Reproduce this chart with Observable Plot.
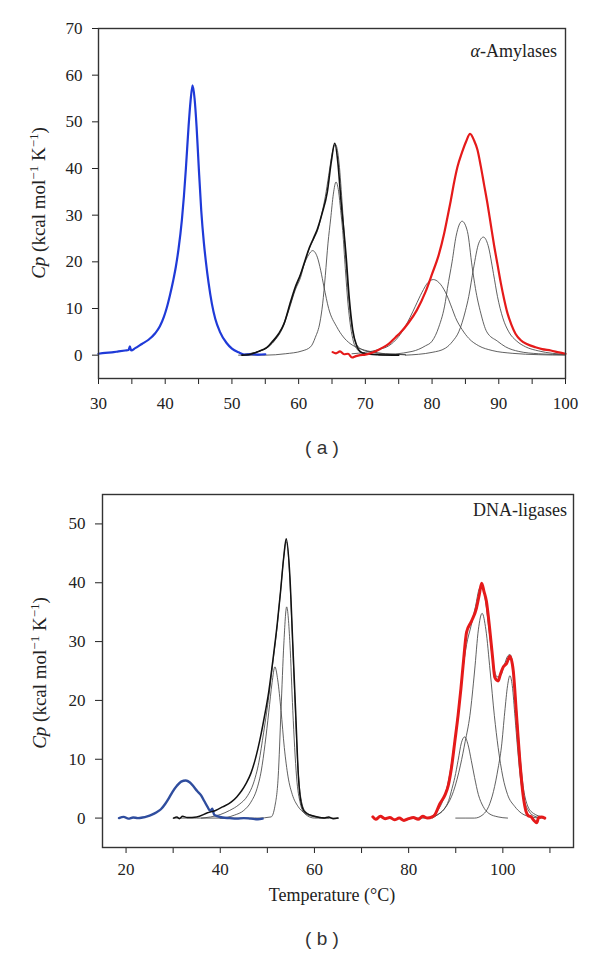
<!DOCTYPE html>
<html><head><meta charset="utf-8">
<script src="https://cdn.jsdelivr.net/npm/d3@7"></script>
<script src="https://cdn.jsdelivr.net/npm/@observablehq/plot@0.6"></script>
<style>
body{margin:0;background:#fff;width:600px;height:964px;position:relative;overflow:hidden;font-family:"Liberation Serif",serif}
#pa{position:absolute;left:0;top:0}
#pb{position:absolute;left:0;top:470px}
#pa svg text, #pb svg text{font-family:"Liberation Serif",serif !important}
.cap{position:absolute;font-family:"Liberation Sans",Arial,sans-serif;font-size:19px;color:#333;width:100px;text-align:center;white-space:pre}
</style></head><body>
<div id="pa"></div><div id="pb"></div>
<div class="cap" style="left:272px;top:437px">( a )</div>
<div class="cap" style="left:272px;top:928px">( b )</div>
<script>
// ---------- Panel (a): alpha-Amylases ----------
const aXTicks = [30,35,40,45,50,55,60,65,70,75,80,85,90,95,100];
const aXLabels = [30,40,50,60,70,80,90,100];
const aYTicks = [0,10,20,30,40,50,60,70];
const aBlue = [[30,0.3],[31,0.5],[32,0.6],[33,0.8],[34,1.0],[34.5,1.1],[34.7,1.9],[34.9,1.0],[35.5,1.5],[36.5,2.4],[37.5,3.3],[38.5,4.7],[39.2,6.2],[39.8,8.2],[40.2,10],[40.7,12.8],[41.2,16],[41.6,19],[42.0,22.8],[42.5,29],[42.8,34],[43.1,40],[43.5,49],[43.8,54.5],[44.1,57.8],[44.4,55],[44.7,49],[45.0,41],[45.4,31],[45.8,24],[46.1,20],[46.5,15.5],[47.0,11],[47.5,7.8],[48.2,5],[49.2,2.6],[50,1.4],[51,0.6],[52,0.1],[53,0.2],[54,0.1],[55,0.2]];
const aBlack = [[51.5,0],[52.5,0.1],[53.5,0.5],[54.5,1.1],[55.3,1.7],[56,2.8],[57,4.6],[57.8,6.7],[58.8,11.5],[59.5,14.6],[60.3,17.4],[60.8,19.6],[61.6,23],[62.3,25.3],[62.8,27],[63.5,30.3],[64.3,35],[64.9,41.5],[65.4,45.4],[65.9,41],[66.3,33.9],[67.1,21.5],[67.6,12],[68.1,5.5],[68.7,2],[69.2,0.8],[70,0.3],[72,0.1],[75,0]];
const aBlackFit = [[52,0.2],[54,0.8],[55.5,1.9],[56.5,3.4],[57.5,5.8],[58.5,9.8],[59.5,14.3],[60.3,17.3],[61,20.3],[61.6,22.8],[62.3,25],[62.9,27],[63.5,30.5],[64,34],[64.5,38.5],[65,43],[65.5,45.2],[66,42],[66.5,33],[67,22],[67.5,12.5],[68,6],[68.6,2.5],[69.5,1.2],[71,0.6],[73,0.3],[76,0.1]];
const aCompA = [[52,0.2],[54,0.8],[55.5,1.8],[56.5,3.3],[57.5,5.5],[58.5,9.5],[59.5,14],[60.3,16.7],[60.8,19.3],[61.5,21.5],[62.1,22.4],[62.8,21],[63.3,18.2],[63.8,14.6],[64.5,10],[65.7,6.1],[66.7,3.9],[67.7,2.5],[69,1.5],[70.7,0.8],[73,0.3],[76,0.1]];
const aCompB = [[51,0],[55,0],[58,0.3],[60.5,0.9],[61.8,1.8],[62.5,3.8],[63.2,7.1],[63.6,11],[64,17.1],[64.4,24],[64.8,29.2],[65.2,34.5],[65.6,37.1],[66,35],[66.3,31],[66.6,26.7],[67.0,18.5],[67.4,11],[67.8,6],[68.2,3],[68.8,1.2],[69.5,0.5],[71,0.2],[75,0]];
const aRed = [[65.1,0.65],[65.6,0.4],[66.2,0.8],[66.8,0.2],[67.4,0.3],[68,-0.5],[68.6,-0.2],[69.2,0],[70,0.1],[71,0.5],[72.3,1.4],[73.5,2.4],[74.5,3.8],[75.3,4.9],[76.5,7],[77.7,9.6],[79,13.5],[80,17.4],[81,21.5],[81.8,26],[82.3,29.5],[82.8,33.1],[83.3,37],[83.8,40.3],[84.5,43.5],[85.1,45.8],[85.7,47.4],[86.3,46],[86.8,44],[87.3,40.5],[87.8,36.5],[88.3,32.5],[88.8,28],[89.3,23.5],[89.8,19.5],[90.3,15.5],[90.8,12],[91.3,9],[91.9,6.5],[92.5,4.6],[93.3,3.2],[94.2,2.4],[95.5,1.7],[96.5,1.3],[97.8,1],[99,0.6],[100,0.3]];
const aRedC1 = [[68,0.3],[70,0.6],[72,1.2],[73.5,2],[75,4],[76,6.2],[76.7,8.1],[77.5,10.5],[78.5,13.5],[79.4,15.6],[80.2,16.2],[81,15.6],[82,13.5],[83,10],[83.5,8.1],[84.5,5.5],[85.5,3.6],[87,2],[89,1],[92,0.4],[96,0.1],[100,0]];
const aRedC2 = [[72,0],[77,0.8],[79,2],[80,3],[81,6],[82,11.5],[82.3,14.3],[83,20],[83.6,25.5],[84.5,28.7],[85.3,26.5],[86,19],[86.5,14.3],[87.3,9],[88.2,5],[89.8,3],[91,1.8],[93,0.8],[96,0.3],[100,0.1]];
const aRedC3 = [[76,0],[80,0.6],[82,1.5],[83.1,3],[84,5],[85,9.5],[85.5,12.6],[86.2,18.5],[87,24],[87.7,25.3],[88.4,23.5],[89.2,17.5],[89.8,12.6],[90.6,8],[91.5,5],[92.7,3],[94,1.8],[96,0.9],[98,0.4],[100,0.2]];

// ---------- Panel (b): DNA-ligases ----------
const bXTicks = [20,30,40,50,60,70,80,90,100,110];
const bXLabels = [20,40,60,80,100];
const bYTicks = [0,10,20,30,40,50];
const bBlue = [[18.5,0],[19.5,0.2],[20.5,-0.1],[21.5,0.1],[22.5,0],[23.5,0.1],[24.5,0.3],[25.5,0.6],[26.5,1],[27.4,1.5],[28.3,2.4],[29.1,3.4],[29.9,4.5],[30.8,5.5],[31.7,6.2],[32.7,6.4],[33.5,6.1],[34.3,5.4],[35.1,4.6],[35.9,3.9],[36.6,2.9],[37.3,1.9],[37.9,1.2],[38.3,1.6],[38.7,0.6],[39.5,0.3],[40.5,0.1],[42,0],[43.5,-0.1],[45,0],[46.5,-0.1],[48,-0.2],[49,-0.1]];
const bBlack = [[30.1,0],[30.8,0.2],[31.3,-0.1],[32,0.3],[33,0.1],[35,0.2],[37.3,0.9],[39,1.3],[40.5,1.9],[42.3,2.7],[43.5,3.6],[44.5,4.6],[45.5,5.9],[46.5,7.6],[47.3,9.6],[48.0,11.8],[48.6,14],[49.2,16.5],[50.3,21.5],[51.2,27],[52.1,33],[52.8,38.5],[53.5,44.5],[54,47.5],[54.8,40.9],[55.4,29.6],[56,18.3],[56.6,7],[57.2,2.5],[58,1],[60,0.3],[62,0],[63,0.2],[64,-0.1],[65,0]];
const bBlackFit = [[36,0],[40,0.6],[42,1.3],[44,2.3],[45.8,3.8],[47,5.8],[48.2,9.5],[49.2,14.5],[50.2,20],[51.1,26],[52,32],[52.8,38.5],[53.5,44.5],[54,47],[54.6,43],[55.2,33],[55.8,21],[56.4,10],[57,4],[58,1.2],[60,0.3],[63,0]];
const bCompA = [[30,0],[40,0],[43,0.5],[45,1.3],[46.5,2.7],[47.8,5],[48.7,8],[49.5,12.5],[50.3,18],[51,23],[51.6,25.7],[52.2,23.5],[52.9,18.3],[53.6,12],[54.4,7],[55.3,4],[56.5,2],[58,0.8],[60,0.2],[62,0]];
const bCompB = [[40,0],[48,0],[50.8,0.2],[51.6,2],[52.3,7],[52.9,18.3],[53.5,29.6],[54.1,35.9],[54.8,29.6],[55.4,18.3],[56.2,7],[57,2.5],[58,0.7],[60,0],[65,0]];
const bRed = [[72.4,0.2],[73,-0.2],[74,0.3],[75,-0.1],[76,0.1],[77,-0.3],[78,0],[79,-0.4],[80,-0.1],[81,0.1],[82,-0.2],[83,0.3],[84,0],[85,0.2],[85.5,0.5],[86.6,2.4],[87.7,3.9],[88.4,5.5],[89.1,8.6],[89.8,13],[90.5,17.5],[91.1,22],[91.6,26.3],[92.3,31.6],[93.3,33.4],[94.4,35.7],[95,38],[95.5,39.9],[96,38.5],[96.5,36.9],[97.2,32.2],[97.8,27.5],[98.3,23.9],[99,23.3],[99.5,24.5],[100.1,25.7],[100.8,26.3],[101.5,27.5],[102.2,25.1],[102.9,17.5],[103.6,9.8],[104.3,3.9],[104.9,1.2],[105.4,0.4],[106,0.2],[106.6,-0.4],[107.2,-0.8],[107.6,0.1],[108.2,0.2],[108.9,0]];
const bRedFit = [[84,0],[86,1.1],[87.5,3.5],[88.5,6.5],[89.5,11.5],[90.5,18],[91.4,24.5],[92.3,29.5],[93.2,32.5],[94.2,36],[95,39],[95.6,39.5],[96.3,37],[97.2,31],[98,26],[98.8,24],[99.5,24.2],[100.3,26],[101,27.5],[101.5,27.8],[102.2,25.5],[102.9,18.5],[103.6,11],[104.3,5.5],[105.2,2.2],[106.5,0.8],[108.5,0.2]];
const bRedC1 = [[80,0],[84,0],[86,0.5],[87.5,1.5],[88.5,3],[89.2,5],[89.8,6.9],[90.5,9.8],[91.2,12.8],[91.9,13.8],[92.6,12.5],[93.3,9.8],[94,6.9],[94.8,4],[95.8,2],[97,0.8],[99,0.2],[101,0]];
const bRedC2 = [[85,0],[86.2,0.6],[88,2],[89.5,4.5],[91,9],[92,13],[93,17.4],[94,25],[94.8,32],[95.6,34.8],[96.4,32],[97.3,25],[98.2,17.4],[99,12],[100,7],[101,4],[102.5,2],[104,0.8],[106,0.2],[108,0]];
const bRedC3 = [[90,0],[94,0],[95.8,0.6],[97,2],[98,4.5],[99,8.5],[99.7,12.1],[100.4,18],[101,22.5],[101.5,24.2],[102,22.5],[102.6,17],[103.1,12.1],[103.7,7],[104.4,3.5],[105.5,1.2],[106.8,0.3],[108.5,0]];

const X = d => d[0], Y = d => d[1];
const comp = (data) => Plot.line(data, {x: X, y: Y, stroke: "#444", strokeWidth: 0.85, curve: "monotone-x"});
const trace = (data, color, w) => Plot.line(data, {x: X, y: Y, stroke: color, strokeWidth: w, curve: "monotone-x"});
const style = {fontFamily: "Liberation Serif", fontSize: "17px", color: "#222", background: "white", overflow: "visible"};

const plotA = Plot.plot({
  width: 600, height: 430, marginTop: 28, marginLeft: 98, marginRight: 35, marginBottom: 52,
  x: {domain: [30, 100]}, y: {domain: [-5, 70]}, style,
  marks: [
    Plot.axisY({ticks: aYTicks, tickSize: 6, tickPadding: 10, label: null, fontSize: 17}),
    Plot.axisX({ticks: aXTicks, tickSize: 6, tickPadding: 12, label: null, fontSize: 17, tickFormat: d => aXLabels.includes(d) ? String(d) : ""}),
    comp(aCompA), comp(aCompB), comp(aBlackFit),
    comp(aRedC1), comp(aRedC2), comp(aRedC3),
    trace(aBlue, "#1f3ad8", 2.2),
    trace(aBlack, "#111", 1.6),
    trace(aRed, "#e51a1a", 2.2),
    Plot.frame({stroke: "#333", strokeWidth: 1.4})
  ]
});

const plotB = Plot.plot({
  width: 600, height: 440, marginTop: 24, marginLeft: 102, marginRight: 27, marginBottom: 63,
  x: {domain: [15, 115]}, y: {domain: [-5, 55]}, style,
  marks: [
    Plot.axisY({ticks: bYTicks, tickSize: 7, tickPadding: 10, label: null, fontSize: 17}),
    Plot.axisX({ticks: bXTicks, tickSize: 6, tickPadding: 9, label: null, fontSize: 17, tickFormat: d => bXLabels.includes(d) ? String(d) : ""}),
    comp(bCompA), comp(bCompB), comp(bBlackFit),
    comp(bRedC1), comp(bRedC2), comp(bRedC3), comp(bRedFit),
    trace(bBlue, "#2f4d9e", 2.4),
    trace(bBlack, "#111", 1.5),
    trace(bRed, "#e51a1a", 3),
    Plot.frame({stroke: "#333", strokeWidth: 1.4})
  ]
});

document.getElementById("pa").appendChild(plotA);
document.getElementById("pb").appendChild(plotB);

function yLabel(svg, x, y) {
  const t = d3.select(svg).append("text")
    .attr("transform", `translate(${x},${y}) rotate(-90)`)
    .attr("text-anchor", "middle").attr("font-size", 19).attr("fill", "#222");
  t.append("tspan").attr("font-style", "italic").text("Cp");
  t.append("tspan").text(" (kcal mol");
  t.append("tspan").attr("font-size", 13).attr("dy", -7).text("\u22121");
  t.append("tspan").attr("dy", 7).text(" K");
  t.append("tspan").attr("font-size", 13).attr("dy", -7).text("\u22121");
  t.append("tspan").attr("dy", 7).text(")");
}
yLabel(plotA, 45, 203);
yLabel(plotB, 46, 203);

const ta = d3.select(plotA).append("text").attr("x", 557).attr("y", 57)
  .attr("text-anchor", "end").attr("font-size", 18).attr("fill", "#222");
ta.append("tspan").attr("font-style", "italic").text("\u03B1");
ta.append("tspan").text("-Amylases");

d3.select(plotB).append("text").attr("x", 567).attr("y", 46)
  .attr("text-anchor", "end").attr("font-size", 18).attr("fill", "#222").text("DNA-ligases");

d3.select(plotB).append("text").attr("x", 332).attr("y", 431)
  .attr("text-anchor", "middle").attr("font-size", 18).attr("fill", "#222").text("Temperature (\u00B0C)");
</script>
</body></html>
